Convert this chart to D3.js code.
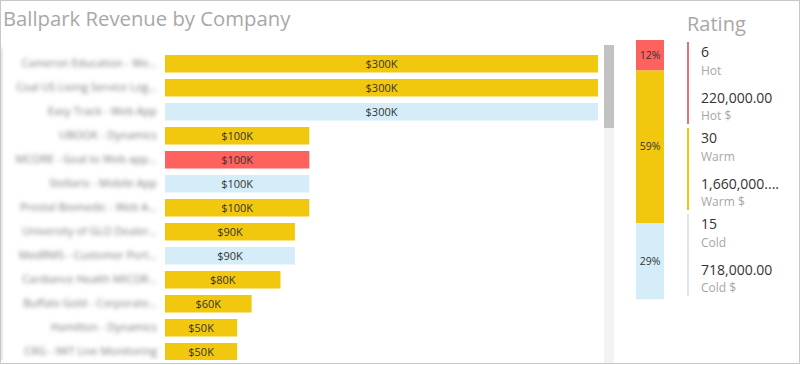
<!DOCTYPE html>
<html>
<head>
<meta charset="utf-8">
<script src="https://cdn.jsdelivr.net/npm/d3@7"></script>
<style>
  body { margin: 0; background: #fff; }
  svg { display: block; font-family: "Open Sans", "Noto Sans", sans-serif; }
</style>
</head>
<body>
<svg class="chart"></svg>
<script>
// ----- chart size -----
const width = 800
const height = 365

// ----- data -----
const companies = [
  'Cameron Education - Web App Upgrade',
  'Coal US Living Service Logistics',
  'Easy Track - Web App',
  'UBOOK - Dynamics',
  'MCORE - Goal to Web app Portal',
  'Stellaris - Mobile App',
  'Prestal Biomedic - Web App Portal',
  'University of GLO Dealer Tracking',
  'MedRMS - Customer Portal Update',
  'Cardiance Health MICOR Service',
  'Buffalo Gold - Corporate Website',
  'Hamilton - Dynamics',
  'CRG - IWT Live Monitoring'
]
const revenue = [300000, 300000, 300000, 100000, 100000, 100000, 100000, 90000, 90000, 80000, 60000, 50000, 50000]
const rating = ['Warm', 'Warm', 'Cold', 'Warm', 'Hot', 'Cold', 'Warm', 'Warm', 'Cold', 'Warm', 'Warm', 'Warm', 'Warm']

const ratingNames = ['Hot', 'Warm', 'Cold']
const ratingCounts = [6, 30, 15]
const ratingDollars = ['220,000.00', '1,660,000....', '718,000.00']

const colour = d3.scaleOrdinal()
  .domain(ratingNames)
  .range(['#FD625E', '#F2C80F', '#D4EDF8'])
const legendLine = d3.scaleOrdinal()
  .domain(ratingNames)
  .range(['#E57373', '#F2C80F', '#DCE6EC'])

const svg = d3.select('svg.chart')
  .attr('width', width)
  .attr('height', height)

// blur for the company names (they are smudged in the original)
svg.append('defs').append('filter')
  .attr('id', 'smudge')
  .attr('x', '-10%').attr('width', '120%')
  .append('feGaussianBlur')
  .attr('stdDeviation', 2.2)

// frame
svg.append('rect')
  .attr('x', 0.5).attr('y', 0.5)
  .attr('width', width - 1).attr('height', 363)
  .attr('fill', '#fff')
  .attr('stroke', '#c8c8c8')

svg.append('text')
  .attr('x', 3).attr('y', 26)
  .attr('font-size', 20.3)
  .attr('fill', '#a8a8a8')
  .text('Ballpark Revenue by Company')

// ----- bar chart -----
const yScale = d3.scaleBand()
  .domain(companies)
  .range([51.75, 51.75 + 13 * 24])
  .paddingInner(0.27)
  .paddingOuter(0.135)

const xScale = d3.scaleLinear()
  .domain([0, 300000])
  .range([165, 598])

const rows = companies.map((c, i) => ({ name: c, value: revenue[i], rating: rating[i] }))

svg.append('clipPath').attr('id', 'plotClip')
  .append('rect').attr('x', 0).attr('y', 45).attr('width', 603).attr('height', 315)

const plot = svg.append('g').attr('clip-path', 'url(#plotClip)')

// smudged strip of the left frame edge, like the reference
plot.append('rect')
  .attr('x', -1).attr('y', 48).attr('width', 3).attr('height', 320)
  .attr('fill', '#c8c8c8')
  .attr('filter', 'url(#smudge)')

// y axis labels, truncated like the original then blurred
const yAxis = d3.axisLeft(yScale).tickSize(0).tickPadding(0)
const yAxisGroup = plot.append('g')
  .attr('class', 'yAxis')
  .attr('transform', 'translate(157, 0)')
  .attr('filter', 'url(#smudge)')
  .call(yAxis)
yAxisGroup.select('.domain').remove()
yAxisGroup.selectAll('text')
  .attr('font-size', 11)
  .attr('font-family', '"Open Sans", sans-serif')
  .attr('fill', '#7a7a7a')
  .each(function () {
    const el = d3.select(this)
    let t = el.text()
    while (t.length > 1 && this.getComputedTextLength() > 142) {
      t = t.slice(0, -1)
      el.text(t.trimEnd() + '...')
    }
  })

const bars = plot.selectAll('g.bar')
  .data(rows)
  .enter()
  .append('g')
  .attr('class', 'bar')

bars.append('rect')
  .attr('x', xScale(0))
  .attr('y', d => yScale(d.name))
  .attr('width', d => xScale(d.value) - xScale(0))
  .attr('height', yScale.bandwidth())
  .attr('fill', d => colour(d.rating))

bars.append('text')
  .attr('x', d => (xScale(0) + xScale(d.value)) / 2)
  .attr('y', d => yScale(d.name) + yScale.bandwidth() / 2)
  .attr('dy', '0.35em')
  .attr('text-anchor', 'middle')
  .attr('font-size', 11)
  .attr('fill', '#333')
  .text(d => '$' + d3.format('d')(d.value / 1000) + 'K')

// scrollbar
svg.append('rect')
  .attr('x', 604).attr('y', 45).attr('width', 10).attr('height', 318)
  .attr('fill', '#f3f3f3')
svg.append('rect')
  .attr('x', 604).attr('y', 45).attr('width', 10).attr('height', 83)
  .attr('fill', '#c2c2c2')

// ----- rating stacked bar -----
const total = d3.sum(ratingCounts)
const stackScale = d3.scaleLinear()
  .domain([0, total])
  .range([40, 299.3])

let running = 0
const segments = ratingNames.map((r, i) => {
  const s = { name: r, start: running, end: running + ratingCounts[i] }
  running += ratingCounts[i]
  return s
})

const stack = svg.append('g').attr('class', 'stack')
stack.selectAll('rect')
  .data(segments)
  .enter()
  .append('rect')
  .attr('x', 636)
  .attr('width', 28)
  .attr('y', d => stackScale(d.start))
  .attr('height', d => stackScale(d.end) - stackScale(d.start))
  .attr('fill', d => colour(d.name))

stack.selectAll('text')
  .data(segments)
  .enter()
  .append('text')
  .attr('x', 650)
  .attr('y', d => (stackScale(d.start) + stackScale(d.end)) / 2)
  .attr('dy', '0.35em')
  .attr('text-anchor', 'middle')
  .attr('font-size', 10.5)
  .attr('fill', '#333')
  .text(d => d3.format('.0%')((d.end - d.start) / total))

// ----- rating cards -----
svg.append('text')
  .attr('x', 687).attr('y', 31)
  .attr('font-size', 20)
  .attr('fill', '#a8a8a8')
  .text('Rating')

const cardTop = d3.scalePoint()
  .domain(ratingNames)
  .range([42, 214])

const cards = svg.selectAll('g.card')
  .data(ratingNames)
  .enter()
  .append('g')
  .attr('class', 'card')
  .attr('transform', d => `translate(0, ${cardTop(d)})`)

cards.append('line')
  .attr('x1', 688).attr('x2', 688)
  .attr('y1', 0).attr('y2', 82)
  .attr('stroke', d => legendLine(d))
  .attr('stroke-width', 2)

cards.append('text')
  .attr('x', 701).attr('y', 15)
  .attr('font-size', 14)
  .attr('fill', '#333')
  .text((d, i) => ratingCounts[i])

cards.append('text')
  .attr('x', 701).attr('y', 33)
  .attr('font-size', 12)
  .attr('fill', '#a6a6a6')
  .text(d => d)

cards.append('text')
  .attr('x', 701).attr('y', 61)
  .attr('font-size', 14)
  .attr('fill', '#333')
  .text((d, i) => ratingDollars[i])

cards.append('text')
  .attr('x', 701).attr('y', 78)
  .attr('font-size', 12)
  .attr('fill', '#a6a6a6')
  .text(d => d + ' $')
</script>
</body>
</html>
